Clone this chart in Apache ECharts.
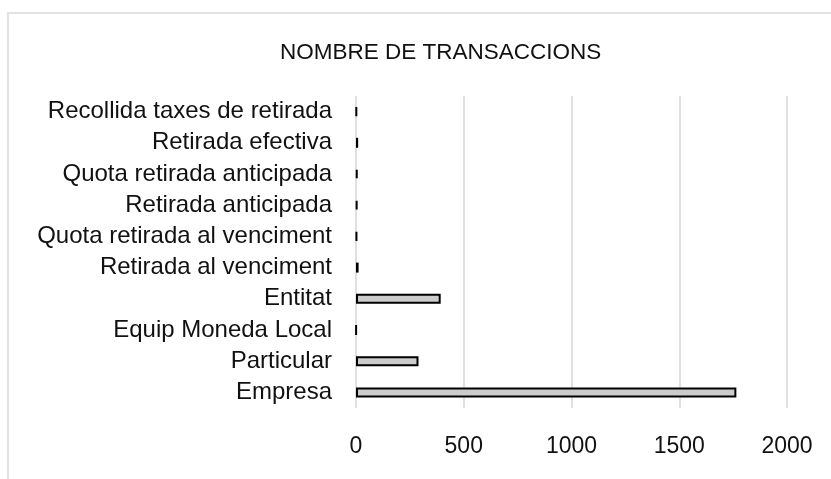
<!DOCTYPE html>
<html>
<head>
<meta charset="utf-8">
<script src="https://cdn.jsdelivr.net/npm/echarts@6/dist/echarts.min.js"></script>
<style>
  html, body { margin: 0; padding: 0; background: #fff; }
  #chart { width: 831px; height: 479px; }
</style>
</head>
<body>
<div id="chart"></div>
<script>
// categories, bottom to top (as drawn)
const categories = [
    'Empresa',
    'Particular',
    'Equip Moneda Local',
    'Entitat',
    'Retirada al venciment',
    'Quota retirada al venciment',
    'Retirada anticipada',
    'Quota retirada anticipada',
    'Retirada efectiva',
    'Recollida taxes de retirada'
];
const transaccions = [1765, 290, 1, 393, 12, 4, 6, 7, 10, 3];
const xTicks = [0, 500, 1000, 1500, 2000];

const FONT = '"Liberation Sans", Arial, sans-serif';

const chart = echarts.init(document.getElementById('chart'), null, { renderer: 'canvas' });

chart.setOption({
    animation: false,
    backgroundColor: '#fff',
    title: {
        text: 'NOMBRE DE TRANSACCIONS',
        left: 275,
        top: 36,
        textStyle: { fontFamily: FONT, fontSize: 22.5, fontWeight: 'normal', color: '#111' }
    },
    graphic: [
        // outer chart-area border (only top and left visible)
        {
            type: 'polyline',
            shape: { points: [[8, 479], [8, 13], [831, 13]] },
            style: { stroke: '#e2e2e2', lineWidth: 2, fill: null }
        }
    ],
    grid: { left: 356, right: 44, top: 96, bottom: 71, containLabel: false },
    xAxis: {
        type: 'value',
        min: xTicks[0],
        max: xTicks[xTicks.length - 1],
        interval: 500,
        axisLine: { show: false },
        axisTick: { show: false },
        axisLabel: {
            margin: 27,
            fontFamily: FONT,
            fontSize: 23,
            color: '#111',
            formatter: v => String(v)
        },
        splitLine: { show: true, lineStyle: { color: '#e0e0e0', width: 2 } }
    },
    yAxis: {
        type: 'category',
        data: categories,
        axisLine: { show: false },
        axisTick: { show: false },
        axisLabel: {
            interval: 0,
            margin: 24,
            padding: [3, 0, 0, 0],
            fontFamily: FONT,
            fontSize: 24,
            color: '#111'
        }
    },
    series: [{
        type: 'bar',
        data: transaccions,
        barWidth: 10,
        itemStyle: { color: '#cccccc', borderColor: '#000', borderWidth: 2 }
    }]
});
</script>
</body>
</html>
